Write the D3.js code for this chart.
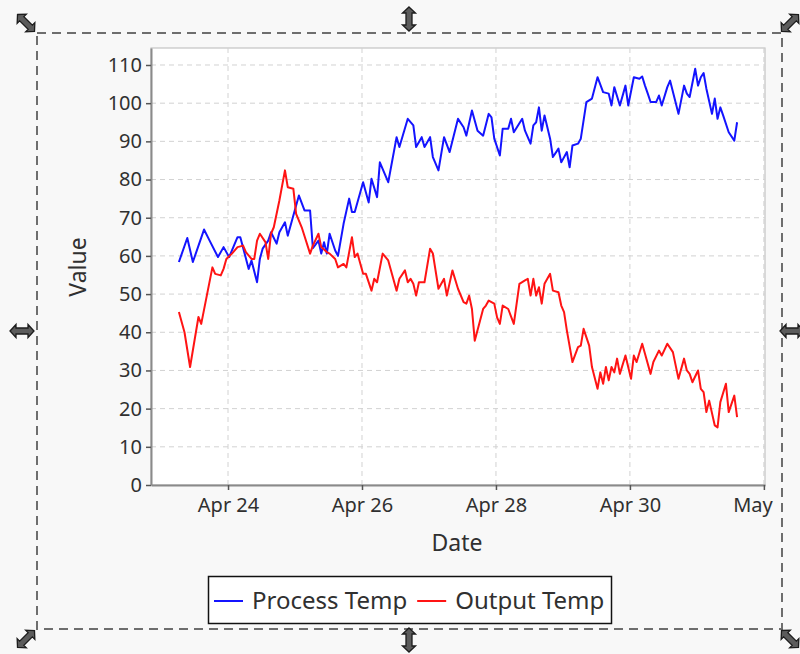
<!DOCTYPE html>
<html>
<head>
<meta charset="utf-8">
<script src="https://cdn.jsdelivr.net/npm/d3@7"></script>
<style>
  html, body { margin: 0; padding: 0; background: #f8f8f8; }
  svg { display: block; font-family: "Noto Sans", sans-serif; }
</style>
</head>
<body>
<svg id="chart" width="800" height="654"></svg>
<script>
// ---- data -------------------------------------------------------------
const startTime = new Date(2024, 3, 23, 6, 24);

const seriesNames = ["Process Temp", "Output Temp"];

// hours after startTime, and the sampled readings
const processHours = [0,3,5,9,11,14,16,18,21,22,25,26,28,29,30,32,33,35,36,38,39,42,43,45,47,48,50,51,52,53,54,56,57,59,61,62,63,66,68,69,71,72,75,78,79,82,84,85,87,88,90,91,93,95,97,100,102,103,105,107,109,111,112,113,115,116,118,119,120,123,124,126,127,128,129,130,131,133,134,136,137,139,140,141,143,144,146,148,150,152,154,155,156,158,160,161,163,165,166,167,168,169,171,172,173,175,176,179,181,182,183,185,186,187,188,189,191,192,193,194,195,197,199,200];
const processValues = [58.4,64.7,58.4,66.9,64,59.7,62.3,59.7,64.9,64.9,56.6,58.8,53.1,59.2,61.9,64,66.2,63.2,66.2,68.8,65.3,73.2,75.8,71.9,71.9,62,64,60.6,63.6,60.6,65.8,61.4,60,68.4,75,71.5,71.5,79.3,74,80.2,75.4,84.5,79.3,91.1,88.5,95.9,94.2,88.5,91.1,88.5,91.1,85.9,82.4,91.1,87.2,95.9,93.7,91.5,98.1,92.8,91.5,97.2,96.3,90.7,86.3,93.3,93.3,95.9,92.4,95.9,92.8,89.4,94.2,95,98.9,92.8,96.8,90.7,85.9,88.1,84.5,87.2,83.2,88.9,89.4,90.7,100.3,101.2,106.8,102.9,102.5,99.4,104.2,99.4,104.6,99.4,106.8,106.4,107,104.6,102.5,100.3,100.3,102,99.4,104.2,105.9,97.2,104.6,102.5,101.6,109,104.6,106.8,107.9,103.8,97.2,101.2,95.9,98.9,96.8,92.4,90.2,95];

const outputHours = [0,2,4,7,8,10,12,13,15,16,17,19,21,23,24,26,27,28,29,31,32,33,34,36,38,39,41,42,44,47,48,50,51,53,54,56,57,59,60,62,63,64,66,67,69,70,71,73,75,78,79,81,82,83,84,85,86,88,90,91,93,95,96,98,100,102,103,104,105,106,109,110,111,113,114,115,116,118,120,122,124,125,126,127,128,129,130,131,133,134,136,137,138,139,141,143,144,145,147,148,150,151,152,153,154,155,156,157,158,160,162,163,164,166,167,169,170,172,173,175,177,179,181,182,183,184,186,187,188,189,190,192,193,194,196,197,199,200];
const outputValues = [45.3,40,30.9,44,42.2,49.6,57,55.3,54.9,56.6,59.2,60.6,62.3,62.7,61,59.2,59.2,64,65.8,63.6,59.2,65.8,67.5,74.5,82.4,78,77.6,71,67.5,60.6,62.7,65.8,62.3,61,60.6,59.2,57,57.9,57,64.9,59.7,60.6,55.3,55.3,50.9,54,53.1,60.6,58.8,50.9,54,56.2,53.1,54,52.7,49.6,53.1,53.1,61.9,60.6,51.4,54,49.6,56.2,51.4,47.9,47.5,49.6,46.1,37.8,46.1,47,48.3,47.5,43.9,42.2,47,46.1,42.2,52.7,53.6,54,49.6,54,49.6,51.8,47.5,52.7,55.3,50.9,50.5,47,45.3,40.5,32.2,36.1,36.5,40.9,36.5,30.9,25.2,29.5,26.5,30.9,27.4,30.9,29.5,33.1,29.1,33.9,27.8,33.9,32.2,37,34.4,29.1,32.2,35.2,33.9,37,34.8,27.8,33.1,30,29.1,26.9,30,25.2,24.3,19.1,22.1,15.6,15.1,21.7,26.5,19.1,23.4,17.8];

const xTickDates = [new Date(2024, 3, 24), new Date(2024, 3, 26), new Date(2024, 3, 28), new Date(2024, 3, 30), new Date(2024, 4, 2)];
const xTickLabels = ["Apr 24", "Apr 26", "Apr 28", "Apr 30", "May"];
const yTickValues = [0, 10, 20, 30, 40, 50, 60, 70, 80, 90, 100, 110];

// ---- styles -----------------------------------------------------------
const seriesColors = ["#1414ff", "#ff1414"];
const textColor = "#303030";

// ---- build series ------------------------------------------------------
const toPoints = (hours, values) => hours.map((h, i) => ({ t: d3.timeMinute.offset(startTime, Math.round(h * 60)), v: values[i] }));
const series = [
  { name: seriesNames[0], color: seriesColors[0], points: toPoints(processHours, processValues) },
  { name: seriesNames[1], color: seriesColors[1], points: toPoints(outputHours, outputValues) }
];

const svg = d3.select("#chart");
const plot = { left: 151, top: 48, right: 765, bottom: 485 };

// time axis: data extent with a 5% margin on either side
const allPts = series.flatMap(s => s.points);
const tExt = d3.extent(allPts, d => +d.t);
const tPad = (tExt[1] - tExt[0]) * 0.05;
const x = d3.scaleTime()
  .domain([new Date(tExt[0] - tPad), new Date(tExt[1] + tPad)])
  .range([plot.left, plot.right]);

// value axis: from zero, upper bound with a 5% margin
const vMax = d3.max(allPts, d => d.v);
const y = d3.scaleLinear().domain([0, vMax * 1.05]).range([plot.bottom, plot.top]);

// plot background
svg.append("rect")
  .attr("x", plot.left).attr("y", plot.top)
  .attr("width", plot.right - plot.left).attr("height", plot.bottom - plot.top)
  .attr("fill", "#ffffff").attr("stroke", "#c4c4c4").attr("stroke-width", 1.2);

// gridlines
const grid = svg.append("g").attr("stroke", "#d2d2d2").attr("stroke-width", 1).attr("stroke-dasharray", "5,4");
grid.selectAll("line.h").data(yTickValues.filter(v => v > 0)).join("line")
  .attr("x1", plot.left).attr("x2", plot.right)
  .attr("y1", d => y(d)).attr("y2", d => y(d));
grid.selectAll("line.v").data(xTickDates).join("line")
  .attr("x1", d => x(d)).attr("x2", d => x(d))
  .attr("y1", plot.top).attr("y2", plot.bottom);

// series lines
const line = d3.line().x(d => x(d.t)).y(d => y(d.v));
svg.append("g").selectAll("path").data(series).join("path")
  .attr("d", d => line(d.points))
  .attr("fill", "none")
  .attr("stroke", d => d.color)
  .attr("stroke-width", 2)
  .attr("stroke-linejoin", "round");

// axes
const yAxis = svg.append("g")
  .attr("transform", `translate(${plot.left},0)`)
  .call(d3.axisLeft(y).tickValues(yTickValues).tickSize(5).tickPadding(4).tickSizeOuter(0));
const xAxis = svg.append("g")
  .attr("transform", `translate(0,${plot.bottom})`)
  .call(d3.axisBottom(x).tickValues(xTickDates).tickFormat((d, i) => xTickLabels[i]).tickSize(5).tickPadding(8).tickSizeOuter(0));

[yAxis, xAxis].forEach(ax => {
  ax.select(".domain").attr("stroke", "#8a8a8a").attr("stroke-width", 2);
  ax.selectAll(".tick line").attr("stroke", "#555").attr("stroke-width", 1.5);
  ax.selectAll(".tick text").attr("fill", textColor).attr("font-size", 20).attr("font-family", "Noto Sans");
});

// keep the outermost date label from running past the chart edge
xAxis.selectAll(".tick text").each(function () {
  const box = this.getBBox();
  const tickX = x(this.__data__);
  const overflow = tickX + box.x + box.width - (plot.right + 8);
  if (overflow > 0) d3.select(this).attr("dx", -overflow);
});

// axis titles
svg.append("text")
  .attr("transform", `translate(86,267) rotate(-90)`)
  .attr("text-anchor", "middle")
  .attr("fill", textColor).attr("font-size", 23)
  .text("Value");
svg.append("text")
  .attr("x", 457).attr("y", 551)
  .attr("text-anchor", "middle")
  .attr("fill", textColor).attr("font-size", 23)
  .text("Date");

// legend
const legend = svg.append("g");
legend.append("rect")
  .attr("x", 208.5).attr("y", 576.5).attr("width", 403).attr("height", 47)
  .attr("fill", "#ffffff").attr("stroke", "#111").attr("stroke-width", 1.5);
let lx = 214;
series.forEach(s => {
  const g = legend.append("g").attr("transform", `translate(${lx},0)`);
  g.append("line").attr("x1", 0).attr("x2", 29).attr("y1", 601).attr("y2", 601)
    .attr("stroke", s.color).attr("stroke-width", 2);
  const t = g.append("text").attr("x", 38).attr("y", 609)
    .attr("fill", textColor).attr("font-size", 24).text(s.name);
  lx += 38 + t.node().getComputedTextLength() + 10;
});

// editor selection frame with resize handles
svg.append("rect")
  .attr("x", 37).attr("y", 33).attr("width", 745).attr("height", 596)
  .attr("fill", "none").attr("stroke", "#6e6e6e").attr("stroke-width", 2)
  .attr("stroke-dasharray", "9,6");

const arrowPath = "M-12,0 L-6,-6.5 L-6,-3 L6,-3 L6,-6.5 L12,0 L6,6.5 L6,3 L-6,3 L-6,6.5 Z";
const handles = [
  [26, 23, 45], [409, 19, 90], [790, 23, -45],
  [22, 331, 0], [792, 331, 0],
  [26, 639, -45], [409, 640, 90], [790, 639, 45]
];
svg.append("g").selectAll("path").data(handles).join("path")
  .attr("d", arrowPath)
  .attr("transform", d => `translate(${d[0]},${d[1]}) rotate(${d[2]})`)
  .attr("fill", "#5c5c5c").attr("stroke", "#1c1c1c").attr("stroke-width", 1.3);
</script>
</body>
</html>
